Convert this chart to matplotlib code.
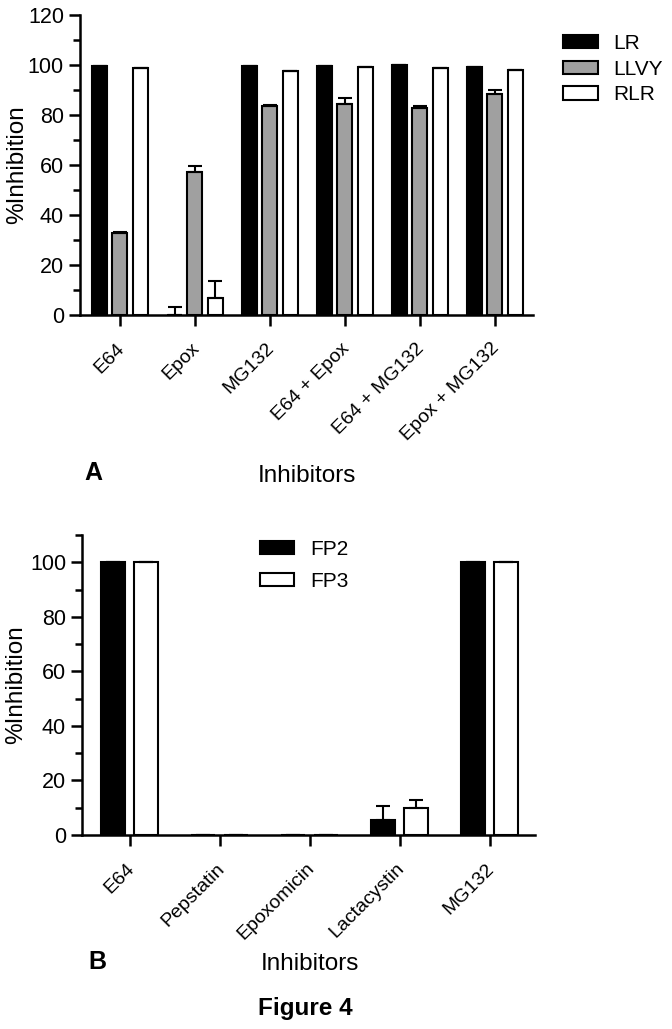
import numpy as np
import matplotlib
matplotlib.use("Agg")
import matplotlib.pyplot as plt
import matplotlib.transforms as mtrans
from matplotlib.ticker import MultipleLocator
from matplotlib.patches import Patch

plt.rcParams['font.family'] = ['Liberation Sans', 'DejaVu Sans']

# Panel A data
inh_a = ["E64", "Epox", "MG132", "E64 + Epox", "E64 + MG132", "Epox + MG132"]
lr = [99.7, 0.0, 99.5, 99.7, 100.0, 99.3]
lr_err = [0.0, 3.3, 0.0, 0.0, 0.0, 0.0]
llvy = [32.7, 57.0, 83.7, 84.4, 82.9, 88.3]
llvy_err = [0.6, 2.7, 0.4, 2.3, 0.6, 1.7]
rlr = [98.9, 6.9, 97.7, 99.3, 98.9, 98.0]
rlr_err = [0.0, 6.8, 0.0, 0.0, 0.0, 0.0]

# Panel B data
inh_b = ["E64", "Pepstatin", "Epoxomicin", "Lactacystin", "MG132"]
fp2 = [100.0, 0.0, 0.0, 5.5, 100.0]
fp2_err = [0.0, 0.0, 0.0, 5.2, 0.0]
fp3 = [100.0, 0.0, 0.0, 9.9, 100.0]
fp3_err = [0.0, 0.0, 0.0, 3.0, 0.0]

GREY = "#a0a0a0"


def style_axes(ax, fig):
    for s in ["top", "right"]:
        ax.spines[s].set_visible(False)
    for s in ["left", "bottom"]:
        ax.spines[s].set_linewidth(1.8)
    ax.tick_params(axis="both", which="major", width=1.8, length=8, labelsize=15.5)
    ax.tick_params(axis="y", which="minor", width=1.8, length=5)
    ax.tick_params(axis="x", labelsize=14, pad=10)
    # nudge rotated labels a bit to the left
    off = mtrans.ScaledTranslation(-4 / 100, 0, fig.dpi_scale_trans)
    for lab in ax.get_xticklabels():
        lab.set_transform(lab.get_transform() + off)


def bars(ax, x, vals, errs, color, width):
    ax.bar(x, vals, width, color=color, edgecolor="black", linewidth=1.5, zorder=2)
    ax.errorbar(x, vals, yerr=[np.zeros(len(errs)), errs], fmt="none",
                ecolor="black", elinewidth=1.5, capsize=5, capthick=1.5, zorder=3)


def handles(colors):
    return [Patch(facecolor=c, edgecolor="black", linewidth=1.5) for c in colors]


fig = plt.figure(figsize=(6.72, 10.29), dpi=100)

# ---- Panel A ----
axa = fig.add_axes([0.119, 0.694, 0.674, 0.2915])
xa = np.arange(len(inh_a))
w = 0.2
bars(axa, xa - 0.27, lr, lr_err, "black", w)
bars(axa, xa, llvy, llvy_err, GREY, w)
bars(axa, xa + 0.275, rlr, rlr_err, "white", w)
axa.set_xlim(-0.533, 5.51)
axa.set_ylim(0, 120)
axa.yaxis.set_major_locator(MultipleLocator(20))
axa.yaxis.set_minor_locator(MultipleLocator(10))
axa.set_xticks(xa)
axa.set_xticklabels(inh_a, rotation=45, ha="right", rotation_mode="anchor")
style_axes(axa, fig)
axa.set_ylabel("%Inhibition", fontsize=17.5)
axa.yaxis.set_label_coords(-0.115, 0.5)
fig.legend(handles(["black", GREY, "white"]), ["LR", "LLVY", "RLR"],
           loc="upper left", bbox_to_anchor=(0.838, 0.967), bbox_transform=fig.transFigure,
           frameon=False, fontsize=15, handlelength=1.65, handleheight=0.6,
           handletextpad=0.75, labelspacing=0.32, borderpad=0, borderaxespad=0)
fig.text(0.457, 0.537, "Inhibitors", fontsize=17.5, ha="center", va="center")
fig.text(0.126, 0.540, "A", fontsize=18, fontweight="bold", ha="left", va="center")

# ---- Panel B ----
axb = fig.add_axes([0.122, 0.1885, 0.674, 0.2915])
xb = np.arange(len(inh_b))
wb = 0.27
bars(axb, xb - 0.185, fp2, fp2_err, "black", wb)
bars(axb, xb + 0.18, fp3, fp3_err, "white", wb)
axb.set_xlim(-0.533, 4.5)
axb.set_ylim(0, 110)
axb.yaxis.set_major_locator(MultipleLocator(20))
axb.yaxis.set_minor_locator(MultipleLocator(10))
axb.set_xticks(xb)
axb.set_xticklabels(inh_b, rotation=45, ha="right", rotation_mode="anchor")
style_axes(axb, fig)
axb.set_ylabel("%Inhibition", fontsize=17.5)
axb.yaxis.set_label_coords(-0.121, 0.5)
fig.legend(handles(["black", "white"]), ["FP2", "FP3"],
           loc="upper left", bbox_to_anchor=(0.387, 0.475), bbox_transform=fig.transFigure,
           frameon=False, fontsize=15, handlelength=1.65, handleheight=0.6,
           handletextpad=0.75, labelspacing=0.6, borderpad=0, borderaxespad=0)
fig.text(0.461, 0.063, "Inhibitors", fontsize=17.5, ha="center", va="center")
fig.text(0.132, 0.065, "B", fontsize=18, fontweight="bold", ha="left", va="center")

fig.text(0.455, 0.020, "Figure 4", fontsize=17.5, fontweight="bold", ha="center", va="center")

fig.savefig("out.png", dpi=100)
